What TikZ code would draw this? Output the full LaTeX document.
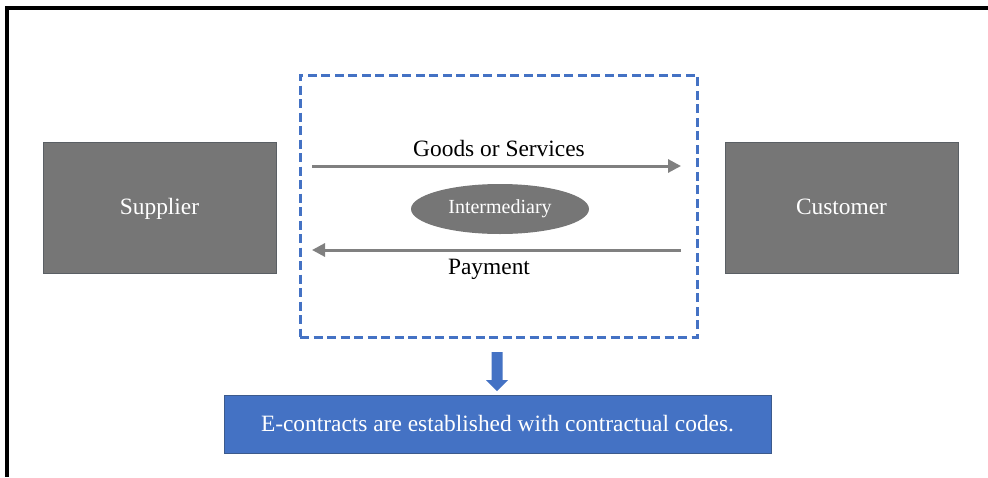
\documentclass[tikz,border=0pt]{standalone}
\usepackage{fontspec}
\setmainfont{Liberation Serif}
\usetikzlibrary{arrows.meta,shapes.geometric}
\definecolor{boxgray}{RGB}{118,118,118}
\definecolor{edgegray}{RGB}{90,95,100}
\definecolor{arrgray}{RGB}{128,128,128}
\definecolor{msblue}{RGB}{68,114,196}
\definecolor{blueedge}{RGB}{60,90,140}
\begin{document}
\begin{tikzpicture}[x=1pt,y=-1pt,
  partybox/.style={draw=edgegray,line width=0.8pt,fill=boxgray,minimum width=233pt,minimum height=131pt,inner sep=0pt,text=white,text height=17pt,text depth=3pt,font=\fontsize{23.4}{28}\selectfont},
  flowarrow/.style={draw=arrgray,line width=3pt,-{Triangle[length=13pt,width=13pt]}},
  lbl/.style={inner sep=0pt,font=\fontsize{23.4}{28}\selectfont},
  dashbox/.style={draw=msblue,line width=3pt,dash pattern=on 9pt off 4.5pt,minimum width=397pt,minimum height=262pt,inner sep=0pt}]
\useasboundingbox (0,0) rectangle (988,477);
\fill[white] (0,0) rectangle (988,477);
% outer border lines
\draw[line width=4pt] (5,8) -- (988,8);
\draw[line width=4pt] (7,6) -- (7,477);
% parties
\node[partybox] (sup) at (159.5,207.5) {Supplier};
\node[partybox] (cus) at (841.5,207.5) {Customer};
% dashed intermediary area
\node[dashbox] (dash) at (498.5,206) {};
% intermediary
\node[ellipse,fill=boxgray,minimum width=178pt,minimum height=50pt,inner sep=0pt,text=white,font=\fontsize{20}{24}\selectfont] (mid) at (500,209) {Intermediary};
% flows
\coordinate (g1) at (312,166);
\coordinate (g2) at (681,166);
\coordinate (p1) at (681,250);
\coordinate (p2) at (312,250);
\draw[flowarrow] (g1) -- (g2);
\draw[flowarrow] (p1) -- (p2);
\node[lbl] (goods) at (499,148) {Goods or Services};
\node[lbl] (pay) at (489,269) {Payment};
% bottom box
\node[draw=blueedge,line width=0.8pt,fill=msblue,minimum width=547pt,minimum height=58pt,inner sep=0pt,text=white,font=\fontsize{23.4}{28}\selectfont] (ec) at (497.5,424) {E-contracts are established with contractual codes.};
% block arrow
\coordinate (ba) at (497,352);
\fill[msblue] (ba) ++(-5.5,0) -- ++(11,0) -- ++(0,28) -- ++(5.5,0) -- ++(-11,11) -- ++(-11,-11) -- ++(5.5,0) -- cycle;
\end{tikzpicture}
\end{document}
